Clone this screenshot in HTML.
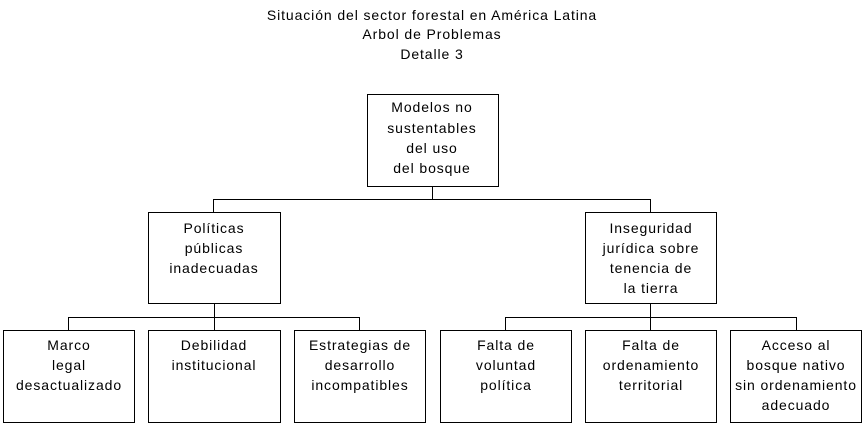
<!DOCTYPE html>
<html><head><style>body{margin:0;background:#fff}svg{display:block}text{font-family:"Liberation Sans",Arial,sans-serif;font-size:14px;letter-spacing:0.9px;fill:#000;text-anchor:middle}</style></head>
<body>
<svg width="864" height="424" viewBox="0 0 864 424" xmlns="http://www.w3.org/2000/svg">
<g shape-rendering="crispEdges" stroke="#000" stroke-width="1" fill="none">
<rect x="367.5" y="94.5" width="131" height="92"/>
<rect x="148.5" y="212.5" width="132" height="91"/>
<rect x="585.5" y="212.5" width="131" height="91"/>
<rect x="3.5" y="330.5" width="131" height="92"/>
<rect x="148.5" y="330.5" width="132" height="92"/>
<rect x="294.5" y="330.5" width="131" height="92"/>
<rect x="440.5" y="330.5" width="131" height="92"/>
<rect x="585.5" y="330.5" width="131" height="92"/>
<rect x="730.5" y="330.5" width="131" height="92"/>
<path d="M432.5 186V199.5M213.5 212V199.5H650.5V212"/>
<path d="M214.5 303V317.5M68.5 330V317.5H359.5V330M214.5 317V330"/>
<path d="M650.5 303V317.5M505.5 330V317.5H796.5V330M650.5 317V330"/>
</g>
<text x="432" y="20">Situación del sector forestal en América Latina</text>
<text x="432" y="39">Arbol de Problemas</text>
<text x="432" y="59">Detalle 3</text>
<text x="432" y="112">Modelos no</text><text x="432" y="133">sustentables</text><text x="432" y="153">del uso</text><text x="432" y="173">del bosque</text>
<text x="214" y="233">Políticas</text><text x="214" y="253">públicas</text><text x="214" y="273">inadecuadas</text>
<text x="651" y="233">Inseguridad</text><text x="651" y="253">jurídica sobre</text><text x="651" y="273">tenencia de</text><text x="651" y="293">la tierra</text>
<text x="69" y="350">Marco</text><text x="69" y="370">legal</text><text x="69" y="390">desactualizado</text>
<text x="214" y="350">Debilidad</text><text x="214" y="370">institucional</text>
<text x="360" y="350">Estrategias de</text><text x="360" y="370">desarrollo</text><text x="360" y="390">incompatibles</text>
<text x="506" y="350">Falta de</text><text x="506" y="370">voluntad</text><text x="506" y="390">política</text>
<text x="651" y="350">Falta de</text><text x="651" y="370">ordenamiento</text><text x="651" y="390">territorial</text>
<text x="796" y="350">Acceso al</text><text x="796" y="370">bosque nativo</text><text x="796" y="390">sin ordenamiento</text><text x="796" y="410">adecuado</text>
</svg>
</body></html>
